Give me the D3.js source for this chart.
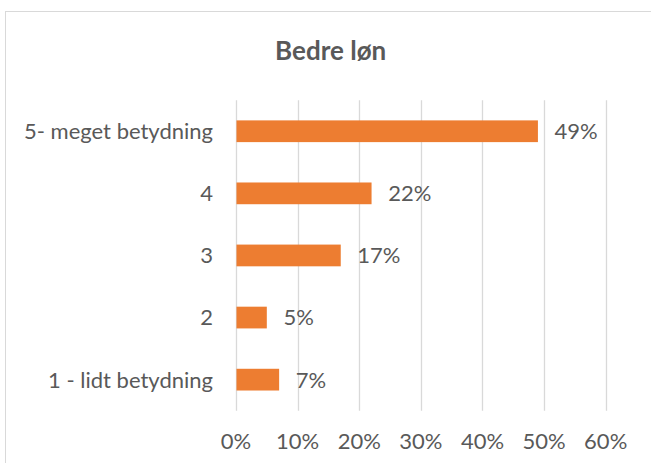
<!DOCTYPE html>
<html>
<head>
<meta charset="utf-8">
<script src="https://cdn.jsdelivr.net/npm/d3@7"></script>
<style>
  html, body { margin: 0; padding: 0; background: #fff; }
  svg { display: block; }
  text { font-family: Lato, "Open Sans", sans-serif; fill: #595959; }
</style>
</head>
<body>
<svg id="chart" width="651" height="463"></svg>
<script>
const title = "Bedre løn";
const categories = ["5- meget betydning", "4", "3", "2", "1 - lidt betydning"];
const values = [0.49, 0.22, 0.17, 0.05, 0.07];
const valueLabels = ["49%", "22%", "17%", "5%", "7%"];
const tickValues = [0, 0.1, 0.2, 0.3, 0.4, 0.5, 0.6];
const tickLabels = ["0%", "10%", "20%", "30%", "40%", "50%", "60%"];

const W = 651, H = 463;
const svg = d3.select("#chart");

// chart border
svg.append("rect")
  .attr("x", 5.5).attr("y", 11.5)
  .attr("width", W + 10).attr("height", H + 10)
  .attr("fill", "#fff")
  .attr("stroke", "#d9d9d9").attr("stroke-width", 1);

const plot = { left: 236, right: 605.7, top: 100.2, bottom: 410.7 };

const x = d3.scaleLinear().domain([0, 0.6]).range([plot.left, plot.right]);
const y = d3.scaleBand().domain(categories)
  .range([plot.top, plot.bottom])
  .paddingInner(0.65).paddingOuter(0.325);

// gridlines
svg.append("g").selectAll("line").data(tickValues).join("line")
  .attr("x1", d => Math.round(x(d)) + 0.5).attr("x2", d => Math.round(x(d)) + 0.5)
  .attr("y1", plot.top).attr("y2", plot.bottom)
  .attr("stroke", "#d9d9d9").attr("stroke-width", 1.3);

// bars
svg.append("g").selectAll("rect").data(categories).join("rect")
  .attr("x", x(0) + 0.5)
  .attr("y", d => y(d))
  .attr("width", (d, i) => x(values[i]) - x(0) - 0.5)
  .attr("height", y.bandwidth())
  .attr("fill", "#ED7D31");

// value labels
svg.append("g").selectAll("text").data(categories).join("text")
  .attr("x", (d, i) => x(values[i]) + 16.6)
  .attr("y", d => y(d) + y.bandwidth() / 2)
  .attr("dy", "0.36em")
  .attr("font-size", 22)
  .text((d, i) => valueLabels[i]);

// category labels
svg.append("g").selectAll("text").data(categories).join("text")
  .attr("x", 213)
  .attr("y", d => y(d) + y.bandwidth() / 2)
  .attr("dy", "0.36em")
  .attr("text-anchor", "end")
  .attr("font-size", 22)
  .text(d => d);

// x tick labels
svg.append("g").selectAll("text").data(tickValues).join("text")
  .attr("x", d => x(d))
  .attr("y", 449.3)
  .attr("text-anchor", "middle")
  .attr("font-size", 22)
  .text((d, i) => tickLabels[i]);

// title
svg.append("text")
  .attr("x", 330.7).attr("y", 59.5)
  .attr("text-anchor", "middle")
  .attr("font-size", 26)
  .attr("font-weight", "bold")
  .text(title);
</script>
</body>
</html>
